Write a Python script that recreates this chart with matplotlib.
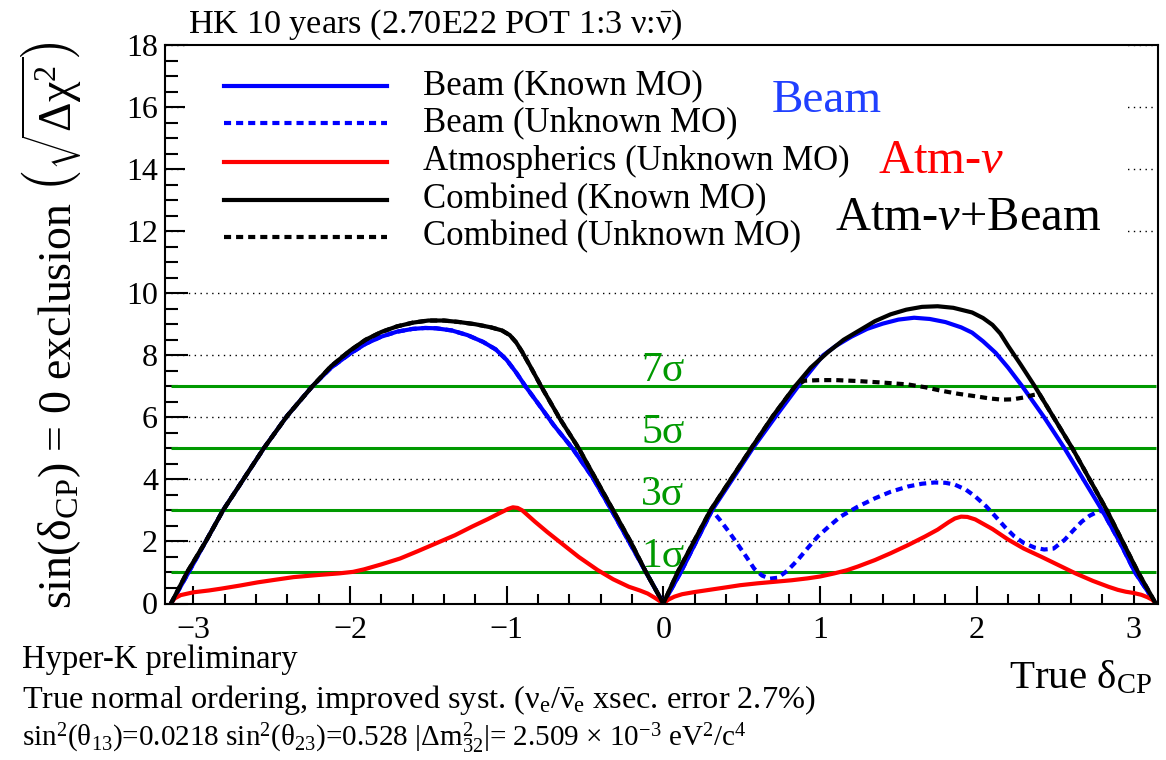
import numpy as np
import matplotlib
matplotlib.use("Agg")
import matplotlib.pyplot as plt
from matplotlib.patches import Rectangle

plt.rcParams['font.family'] = ['Liberation Serif', 'DejaVu Serif']
plt.rcParams['mathtext.fontset'] = 'custom'
plt.rcParams['mathtext.rm'] = 'Liberation Serif'
plt.rcParams['mathtext.it'] = 'Liberation Serif:italic'
plt.rcParams['mathtext.bf'] = 'Liberation Serif:bold'
plt.rcParams['mathtext.sf'] = 'Liberation Serif'

PI = np.pi

# ---- data ----
beam_known_x = [-PI, -3.03, -2.92, -2.81, -2.68, -2.55, -2.40, -2.24, -2.12, -2.0, -1.9, -1.8,
                -1.7, -1.6, -1.52, -1.45, -1.35, -1.25, -1.15, -1.07, -1.0, -0.94, -0.88, -0.8,
                -0.7, -0.58, -0.45, -0.33, -0.22, -0.11, 0.0,
                0.11, 0.21, 0.31, 0.44, 0.57, 0.72, 0.86, 0.94, 1.02, 1.1, 1.2, 1.3, 1.4, 1.5,
                1.6, 1.7, 1.8, 1.9, 1.97, 2.04, 2.12, 2.2, 2.29, 2.36, 2.43, 2.56, 2.68, 2.80,
                2.91, 3.01, PI]
beam_known_y = [0, 1.0, 2.0, 3.0, 4.0, 5.0, 6.05, 7.0, 7.6, 8.05, 8.37, 8.6,
                8.76, 8.85, 8.88, 8.87, 8.8, 8.65, 8.43, 8.19, 7.85, 7.45, 7.0, 6.45,
                5.75, 5.0, 4.05, 3.0, 2.0, 1.0, 0.0,
                1.0, 2.0, 3.0, 4.0, 5.0, 6.05, 7.0, 7.5, 8.0, 8.3, 8.6, 8.85, 9.02, 9.15,
                9.21, 9.17, 9.07, 8.9, 8.73, 8.45, 8.08, 7.6, 7.0, 6.5, 6.0, 5.0, 4.0, 3.0,
                2.0, 1.0, 0]

beam_unknown_x = [-PI, -3.03, -2.92, -2.81, -2.68, -2.55, -2.40, -2.24, -2.12, -2.0, -1.9, -1.8,
                  -1.7, -1.6, -1.52, -1.45, -1.35, -1.25, -1.15, -1.07, -1.0, -0.94, -0.88, -0.8,
                  -0.7, -0.58, -0.45, -0.33, -0.22, -0.11, 0.0,
                  0.11, 0.21, 0.31, 0.36, 0.42, 0.47, 0.53, 0.58, 0.63, 0.68, 0.73, 0.79, 0.857,
                  0.92, 0.985, 1.06, 1.13, 1.24, 1.35, 1.45, 1.56, 1.65, 1.73, 1.8, 1.86, 1.93,
                  1.99, 2.06, 2.12, 2.18, 2.24, 2.3, 2.37, 2.43, 2.49, 2.56, 2.62, 2.67, 2.72,
                  2.76, 2.80, 2.91, 3.01, PI]
beam_unknown_y = [0, 1.0, 2.0, 3.0, 4.0, 5.0, 6.05, 7.0, 7.6, 8.05, 8.37, 8.6,
                  8.76, 8.85, 8.88, 8.87, 8.8, 8.65, 8.43, 8.19, 7.85, 7.45, 7.0, 6.45,
                  5.75, 5.0, 4.05, 3.0, 2.0, 1.0, 0.0,
                  1.0, 2.0, 3.0, 2.7, 2.3, 1.94, 1.5, 1.12, 0.9, 0.8, 0.83, 1.05, 1.4,
                  1.78, 2.16, 2.5, 2.8, 3.12, 3.39, 3.6, 3.77, 3.86, 3.9, 3.89, 3.83, 3.67,
                  3.45, 3.13, 2.8, 2.46, 2.16, 1.95, 1.8, 1.74, 1.77, 2.05, 2.38, 2.64, 2.83,
                  2.93, 3.0, 2.0, 1.0, 0]

atm_x = [-PI, -3.12, -3.08, -3.0, -2.9, -2.82, -2.7, -2.59, -2.47, -2.36, -2.2, -2.07, -1.98,
         -1.91, -1.8, -1.68, -1.57, -1.45, -1.33, -1.22, -1.12, -1.05, -0.99, -0.96, -0.93,
         -0.9, -0.86, -0.82, -0.74, -0.65, -0.54, -0.42, -0.32, -0.22, -0.15, -0.1, -0.05, 0.0,
         0.03, 0.07, 0.12, 0.2, 0.28, 0.4, 0.49, 0.6, 0.71, 0.82, 0.92, 1.0, 1.09, 1.17, 1.24,
         1.35, 1.45, 1.56, 1.67, 1.75, 1.82, 1.86, 1.9, 1.94, 1.99, 2.1, 2.2, 2.3, 2.41, 2.52,
         2.63, 2.74, 2.84, 2.9, 2.95, 3.0, 3.05, 3.09, 3.12, PI]
atm_y = [0, 0.16, 0.27, 0.36, 0.42, 0.48, 0.58, 0.68, 0.77, 0.85, 0.92, 0.97, 1.02,
         1.1, 1.26, 1.45, 1.68, 1.94, 2.2, 2.48, 2.72, 2.9, 3.05, 3.1, 3.08,
         3.0, 2.82, 2.64, 2.3, 1.94, 1.5, 1.08, 0.78, 0.54, 0.42, 0.32, 0.17, 0.0,
         0.12, 0.22, 0.3, 0.37, 0.43, 0.52, 0.59, 0.65, 0.7, 0.75, 0.81, 0.87, 0.97, 1.07, 1.19,
         1.4, 1.62, 1.88, 2.16, 2.38, 2.62, 2.74, 2.8, 2.79, 2.71, 2.4, 2.06, 1.77, 1.51, 1.24,
         0.97, 0.73, 0.54, 0.44, 0.38, 0.34, 0.28, 0.2, 0.12, 0]

comb_known_x = [-PI, -3.04, -2.92, -2.81, -2.68, -2.55, -2.40, -2.24, -2.12, -2.0, -1.9, -1.8,
                -1.7, -1.6, -1.5, -1.4, -1.3, -1.2, -1.1, -1.03, -0.98, -0.94, -0.9, -0.85,
                -0.78, -0.66, -0.54, -0.43, -0.32, -0.21, -0.11, 0.0,
                0.09, 0.2, 0.30, 0.43, 0.56, 0.70, 0.84, 0.94, 1.05, 1.15, 1.25, 1.35, 1.45,
                1.55, 1.65, 1.75, 1.85, 1.97, 2.04, 2.1, 2.15, 2.2, 2.28, 2.37, 2.49, 2.61,
                2.72, 2.83, 2.93, 3.03, PI]
comb_known_y = [0, 1.0, 2.0, 3.0, 4.0, 5.0, 6.05, 7.0, 7.65, 8.15, 8.5, 8.75,
                8.93, 9.05, 9.12, 9.12, 9.07, 9.0, 8.9, 8.8, 8.65, 8.42, 8.1, 7.65,
                7.0, 5.95, 5.0, 4.0, 3.0, 2.0, 1.0, 0.0,
                1.0, 2.05, 3.0, 4.0, 5.0, 6.05, 7.0, 7.6, 8.1, 8.5, 8.8, 9.1, 9.32,
                9.47, 9.56, 9.58, 9.53, 9.38, 9.2, 8.98, 8.7, 8.3, 7.7, 7.0, 6.0, 5.0,
                4.0, 3.0, 2.0, 1.0, 0]

comb_unknown_x = [-PI, -3.04, -2.92, -2.81, -2.68, -2.55, -2.40, -2.24, -2.12, -2.0, -1.9, -1.8,
                  -1.7, -1.6, -1.5, -1.4, -1.3, -1.2, -1.1, -1.03, -0.98, -0.94, -0.9, -0.85,
                  -0.78, -0.66, -0.54, -0.43, -0.32, -0.21, -0.11, 0.0,
                  0.09, 0.2, 0.30, 0.43, 0.56, 0.70, 0.84, 0.9, 1.0, 1.1, 1.24, 1.4, 1.56,
                  1.67, 1.77, 1.88, 1.99, 2.08, 2.16, 2.23, 2.3, 2.36, 2.40, 2.49, 2.61,
                  2.72, 2.83, 2.93, 3.03, PI]
comb_unknown_y = [0, 1.0, 2.0, 3.0, 4.0, 5.0, 6.05, 7.0, 7.65, 8.15, 8.5, 8.75,
                  8.93, 9.05, 9.12, 9.12, 9.07, 9.0, 8.9, 8.8, 8.65, 8.42, 8.1, 7.65,
                  7.0, 5.95, 5.0, 4.0, 3.0, 2.0, 1.0, 0.0,
                  1.0, 2.05, 3.0, 4.0, 5.0, 6.05, 7.0, 7.18, 7.2, 7.2, 7.17, 7.12, 7.06,
                  6.97, 6.86, 6.76, 6.68, 6.61, 6.57, 6.58, 6.64, 6.72, 6.75, 6.0, 5.0,
                  4.0, 3.0, 2.0, 1.0, 0]

sigma_levels = [1, 3, 5, 7]
sigma_labels = ['1σ', '3σ', '5σ', '7σ']

legend_labels = ['Beam (Known MO)', 'Beam (Unknown MO)', 'Atmospherics (Unknown MO)',
                 'Combined (Known MO)', 'Combined (Unknown MO)']

y_ticks = list(range(0, 19, 2))
x_ticks = [-3, -2, -1, 0, 1, 2, 3]

# ---- figure ----
W, H = 1166, 760
fig = plt.figure(figsize=(W / 100, H / 100), dpi=100)
ax_l, ax_r, ax_b, ax_t = 165, 1157.5, 603.5, 45
ax = fig.add_axes([ax_l / W, 1 - ax_b / H, (ax_r - ax_l) / W, (ax_b - ax_t) / H])
ax.set_xlim(-3.18, 3.153)
ax.set_ylim(0, 18)

GREEN = '#009900'
BLUE = '#0000ff'
RED = '#ff0000'
LW = 3.0
DASH = (1.7, 1.2)

# grid (dotted) at even y
ax.set_yticks(y_ticks)
ax.set_xticks(x_ticks)
ax.set_xticklabels([('−%d' % -t) if t < 0 else str(t) for t in x_ticks])
ax.yaxis.grid(True, linestyle=(0, (1, 3.2)), linewidth=1.0, color='black')
ax.set_axisbelow(True)

# white legend area covering the grid
ax.add_patch(Rectangle((0.02, 0.615), 0.947, 0.384, transform=ax.transAxes,
                       facecolor='white', edgecolor='none', zorder=1.8))

# sigma lines
ax.hlines(sigma_levels, -PI, PI, colors=GREEN, linewidth=2.2, zorder=2)
for lev, lab in zip(sigma_levels, sigma_labels):
    ax.text(-0.143, lev + 0.17, lab, color=GREEN, fontsize=30, ha='left', va='baseline', zorder=3)

# curves
l1, = ax.plot(beam_known_x, beam_known_y, color=BLUE, lw=LW, zorder=3,
              solid_joinstyle='round')
l2, = ax.plot(beam_unknown_x, beam_unknown_y, color=BLUE, lw=LW, zorder=3.1,
              dashes=DASH)
l3, = ax.plot(atm_x, atm_y, color=RED, lw=LW, zorder=3.2, solid_joinstyle='round')
l4, = ax.plot(comb_known_x, comb_known_y, color='black', lw=LW, zorder=3.3,
              solid_joinstyle='round')
l5, = ax.plot(comb_unknown_x, comb_unknown_y, color='black', lw=LW, zorder=3.4,
              dashes=DASH)

# manual legend
handles = [l1, l2, l3, l4, l5]
row_y = [0.9266, 0.8603, 0.7905, 0.7225, 0.6562]
for h, lab, yy in zip(handles, legend_labels, row_y):
    kw = dict(color=h.get_color(), lw=LW, transform=ax.transAxes, zorder=4)
    if h.get_linestyle() != '-':
        kw['dashes'] = DASH
    ax.plot([0.0594, 0.2237], [yy, yy], **kw)
    ax.text(0.26, yy - 0.0143, lab, transform=ax.transAxes, fontsize=25,
            ha='left', va='baseline', zorder=4)

# big labels
ax.text(0.6116, 0.880, 'Beam', color='#2040ff', fontsize=34, transform=ax.transAxes,
        ha='left', va='baseline', zorder=4)
ax.text(0.7184, 0.7708, r'Atm-$\nu$', color=RED, fontsize=35, transform=ax.transAxes,
        ha='left', va='baseline', zorder=4)
ax.text(0.675, 0.6687, r'Atm-$\nu$+Beam', color='black', fontsize=35, transform=ax.transAxes,
        ha='left', va='baseline', zorder=4)

# axes styling
for s in ax.spines.values():
    s.set_linewidth(1.5)
    s.set_zorder(5)
ax.yaxis.set_minor_locator(matplotlib.ticker.MultipleLocator(0.5))
ax.xaxis.set_minor_locator(matplotlib.ticker.MultipleLocator(0.2))
ax.tick_params(which='both', direction='in', top=False, right=False, width=1.5,
               labelsize=23)
ax.tick_params(axis='y', which='major', length=16.5, pad=5)
ax.tick_params(axis='y', which='minor', length=9.4)
ax.tick_params(axis='x', which='major', length=13, pad=9)
ax.tick_params(axis='x', which='minor', length=7.2)

# title and texts
fig.text(188 / W, 1 - 33 / H, r'HK 10 years (2.70E22 POT 1:3 ν:$\bar{\mathrm{ν}}$)',
         fontsize=24.7, ha='left', va='baseline')
fig.text(52 / W, 1 - 325 / H,
         r'sin(δ$_{\mathrm{CP}}$) = 0 exclusion $\left(\sqrt{\Delta\mathrm{χ}^{2}}\right)$',
         fontsize=33, rotation=90, ha='center', va='center')
fig.text(1152 / W, 1 - 688 / H, r'True δ$_{\mathrm{CP}}$', fontsize=29.5,
         ha='right', va='baseline')
fig.text(22 / W, 1 - 668 / H, 'Hyper-K preliminary', fontsize=23.5, ha='left', va='baseline')
fig.text(22 / W, 1 - 708 / H,
         r'True normal ordering, improved syst. (ν$_{\mathrm{e}}$/$\bar{\mathrm{ν}}_{\mathrm{e}}$ xsec. error 2.7%)',
         fontsize=23.2, ha='left', va='baseline')
fig.text(22 / W, 1 - 746 / H,
         r'sin$^{2}$(θ$_{13}$)=0.0218 sin$^{2}$(θ$_{23}$)=0.528 |Δm$^{2}_{32}$|= 2.509 × 10$^{-3}$ eV$^{2}$/c$^{4}$',
         fontsize=21, ha='left', va='baseline')

fig.savefig('out.png', dpi=100)
